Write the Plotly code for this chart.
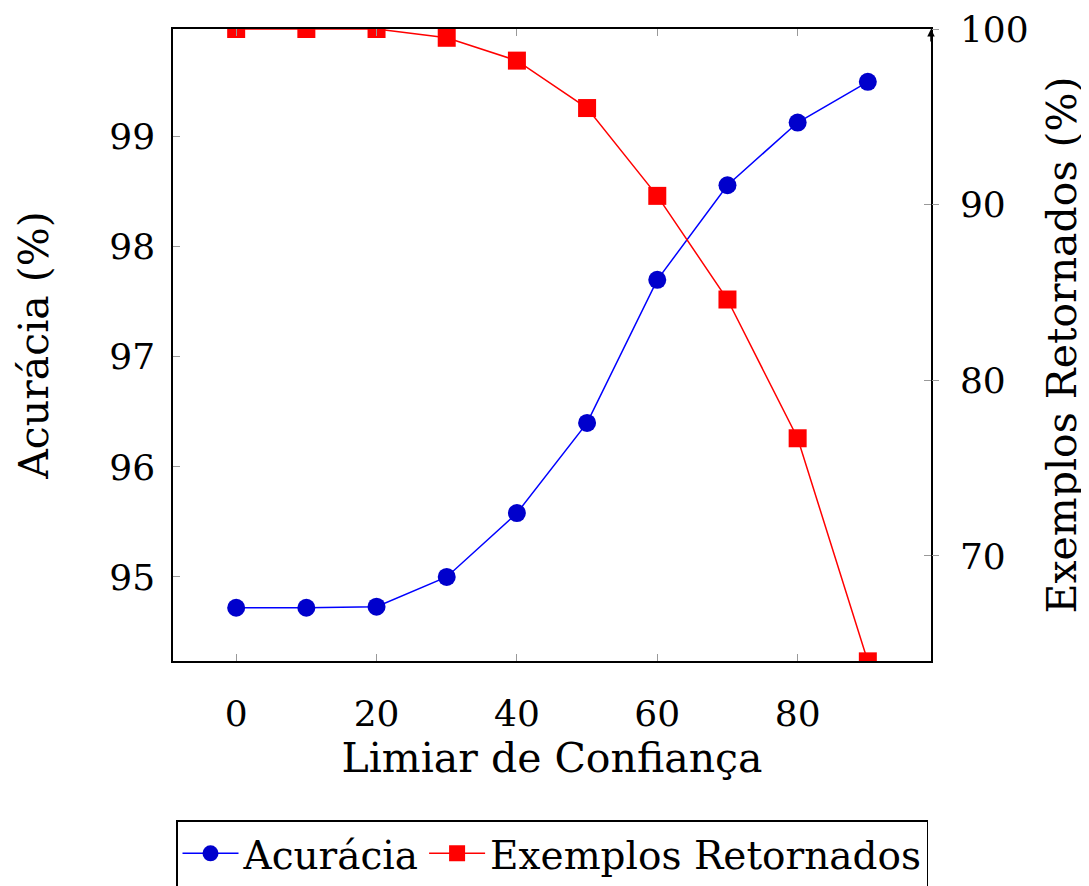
import plotly.graph_objects as go

limiar = [0, 10, 20, 30, 40, 50, 60, 70, 80, 90]
acuracia = [94.72, 94.72, 94.73, 95.0, 95.58, 96.40, 97.70, 98.56, 99.13, 99.50]
retornados = [100.0, 100.0, 100.0, 99.5, 98.2, 95.5, 90.5, 84.6, 76.7, 64.0]

x_ticks = [0, 20, 40, 60, 80]
y1_ticks = [95, 96, 97, 98, 99]
y2_ticks = [70, 80, 90, 100]

FONT = "DejaVu Serif"
FS = 36   # tick labels
FT = 34   # axis titles
FL = 39   # legend

fig = go.Figure()
fig.add_trace(go.Scatter(
    x=limiar, y=acuracia, name="Acurácia", mode="lines+markers",
    line=dict(color="#0000FF", width=1.5),
    marker=dict(symbol="circle", size=18, color="#0000CC", line=dict(width=0)),
    yaxis="y"))
fig.add_trace(go.Scatter(
    x=limiar, y=retornados, name="Exemplos Retornados", mode="lines+markers",
    line=dict(color="#FF0000", width=1.5),
    marker=dict(symbol="square", size=18, color="#FF0000", line=dict(width=0)),
    yaxis="y2"))

tick_gray = "#999999"
tickfont = dict(family=FONT, size=FS, color="black")
fig.update_layout(
    width=1081, height=878,
    margin=dict(l=165, r=158, t=21, b=225, autoexpand=False),
    paper_bgcolor="white", plot_bgcolor="white",
    font=dict(family=FONT, size=FT, color="black"),
    showlegend=True,
    legend=dict(orientation="h", x=0.5, xanchor="center", y=-0.2516, yanchor="top",
                bordercolor="black", borderwidth=1.5,
                font=dict(family=FONT, size=FL, color="black"),
                itemwidth=56, tracegroupgap=0),
    xaxis=dict(range=[-9, 99], tickvals=x_ticks, ticks="inside", ticklen=7,
               tickcolor=tick_gray, tickwidth=1, showline=True, linecolor="black",
               linewidth=1.5, mirror="ticks", showgrid=False, zeroline=False,
               ticklabelstandoff=20, automargin=False, tickfont=tickfont,
               title=dict(text="Limiar de Confiança", standoff=0)),
    yaxis=dict(range=[94.236, 99.98], tickvals=y1_ticks, ticks="inside", ticklen=7,
               tickcolor=tick_gray, showline=True, linecolor="black", linewidth=1.5,
               showgrid=False, zeroline=False, ticklabelstandoff=9, automargin=False,
               tickfont=tickfont,
               title=dict(text="Acurácia (%)", standoff=48)),
    yaxis2=dict(range=[64.02, 100], tickvals=y2_ticks, ticks="inside", ticklen=7,
                tickcolor=tick_gray, overlaying="y", side="right", showline=True,
                linecolor="black", linewidth=1.5, showgrid=False, zeroline=False,
                ticklabelstandoff=20, automargin=False, tickfont=tickfont,
                title=dict(text="Exemplos Retornados (%)", standoff=20)),
    yaxis3=dict(range=[64.02, 100], tickvals=y2_ticks, ticks="outside", ticklen=7,
                tickcolor=tick_gray, overlaying="y", side="right", showline=False,
                showticklabels=False, showgrid=False, zeroline=False, automargin=False),
)
fig.add_trace(go.Scatter(x=[limiar[0]], y=[retornados[0]], yaxis="y3",
                         mode="markers", marker=dict(opacity=0), showlegend=False,
                         hoverinfo="skip"))
fig.add_annotation(x=1, y=1, xref="paper", yref="paper", ax=0, ay=14,
                   showarrow=True, arrowhead=2, arrowsize=1, arrowwidth=1.5,
                   arrowcolor="black", text="")

fig.write_html("out.html")
